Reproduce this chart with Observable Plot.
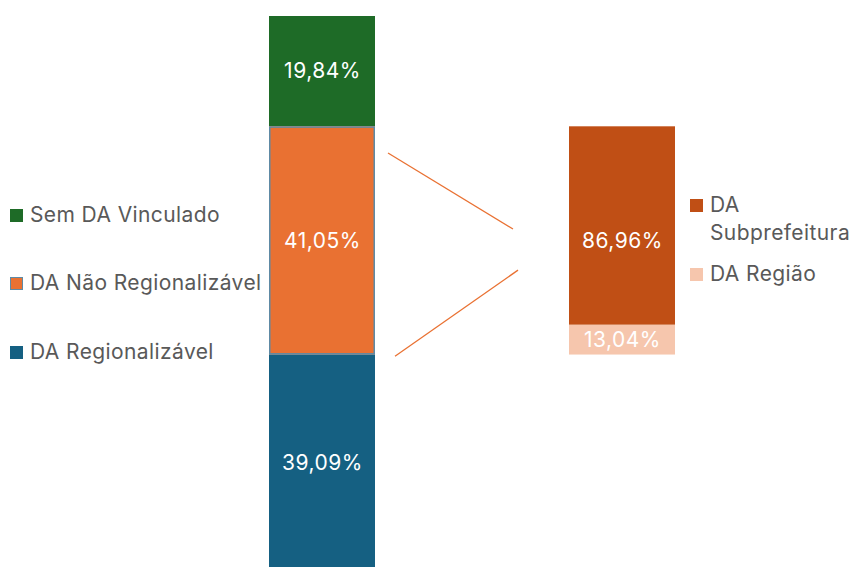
<!DOCTYPE html>
<html><head><meta charset="utf-8">
<script src="https://cdn.jsdelivr.net/npm/d3@7"></script>
<script src="https://cdn.jsdelivr.net/npm/@observablehq/plot@0.6"></script>
<style>
body{margin:0;background:#fff;font-family:"Inter",sans-serif;}
#wrap{position:relative;width:852px;height:567px;overflow:hidden;}
#wrap svg{position:absolute;left:0;top:0;}
.leg{position:absolute;display:flex;align-items:flex-start;color:#595959;font-size:21px;letter-spacing:0.4px;line-height:28px;white-space:nowrap;}
.sw{width:13px;height:13px;margin-right:7px;margin-top:8px;box-sizing:border-box;flex:none;}
</style></head><body><div id="wrap"></div>
<script>
// ---- data ----
const groups = ["Total", "Detalhe"];
const mainCategories = ["Sem DA Vinculado", "DA Não Regionalizável", "DA Regionalizável"];
const mainValues = [19.84, 41.05, 39.09];
const mainLabels = ["19,84%", "41,05%", "39,09%"];
const detailCategories = ["DA Subprefeitura", "DA Região"];
const detailValues = [86.96, 13.04];
const detailLabels = ["86,96%", "13,04%"];
const splitCategory = "DA Não Regionalizável";

// ---- styles ----
const mainColors = ["#1E6B27", "#E97132", "#156082"];
const detailColors = ["#C04F15", "#F6C6AD"];
const splitBorder = "#5E8AA5";

// build rows
const rows = [];
let acc = 0;
mainCategories.forEach((c, i) => {
  rows.push({group: groups[0], cat: c, y1: acc, y2: acc + mainValues[i], label: mainLabels[i], ly: acc + mainValues[i] / 2});
  acc += mainValues[i];
});
const split = rows.find(d => d.cat === splitCategory);
const splitSize = split.y2 - split.y1;
let dacc = split.y1;
detailCategories.forEach((c, i) => {
  const h = splitSize * detailValues[i] / 100;
  // the large detail label sits at the centre of the whole detail bar, as in the original
  const ly = i === 0 ? split.y1 + splitSize / 2 : dacc + h / 2;
  rows.push({group: groups[1], cat: c, y1: dacc, y2: dacc + h, label: detailLabels[i], ly});
  dacc += h;
});

const connectors = (index, {x, y}) => {
  const bw = x.bandwidth();
  const lx = x(groups[0]) + bw, rx = x(groups[1]);
  const g = d3.create("svg:g").attr("stroke", "#E97132").attr("stroke-width", 1.3).attr("fill", "none");
  g.append("line").attr("x1", lx + 13).attr("y1", y(split.y1 + 4.8))
    .attr("x2", rx - 56).attr("y2", y(split.y1 + splitSize * 0.45));
  g.append("line").attr("x1", lx + 20).attr("y1", y(split.y2 + 0.3))
    .attr("x2", rx - 51).attr("y2", y(split.y1 + splitSize * 0.63));
  return g.node();
};

const chart = Plot.plot({
  width: 852, height: 567,
  marginTop: 0, marginRight: 0, marginBottom: 0, marginLeft: 0,
  style: {fontFamily: "Inter, sans-serif", background: "transparent"},
  x: {type: "band", domain: groups, range: [269, 675], paddingInner: 0.648, paddingOuter: 0, axis: null},
  y: {domain: [0, 100], range: [16, 572], axis: null},
  color: {domain: mainCategories.concat(detailCategories), range: mainColors.concat(detailColors)},
  marks: [
    Plot.barY(rows, {x: "group", y1: "y1", y2: "y2", fill: "cat"}),
    Plot.barY(rows.filter(d => d.cat === splitCategory), {x: "group", y1: "y1", y2: "y2", fill: "none", stroke: splitBorder, strokeWidth: 1.5, inset: 0.75}),
    connectors,
    Plot.text(rows, {x: "group", y: "ly", text: "label", fill: "white", fontSize: 21})
  ]
});

const wrap = document.getElementById("wrap");
wrap.appendChild(chart);
chart.querySelectorAll("text").forEach(t => t.setAttribute("letter-spacing", "0.5"));

function legendItem(label, color, left, top, border) {
  const div = document.createElement("div");
  div.className = "leg";
  div.style.left = left + "px";
  div.style.top = top + "px";
  const sw = document.createElement("div");
  sw.className = "sw";
  sw.style.background = color;
  if (border) sw.style.border = "1.5px solid " + border;
  const t = document.createElement("div");
  t.innerHTML = label;
  div.appendChild(sw); div.appendChild(t);
  wrap.appendChild(div);
}
const leftTops = [201, 269, 338];
mainCategories.forEach((c, i) => legendItem(c, mainColors[i], 10, leftTops[i], c === splitCategory ? splitBorder : null));
legendItem("DA<br>Subprefeitura", detailColors[0], 690, 191);
legendItem(detailCategories[1], detailColors[1], 690, 260);
</script></body></html>
